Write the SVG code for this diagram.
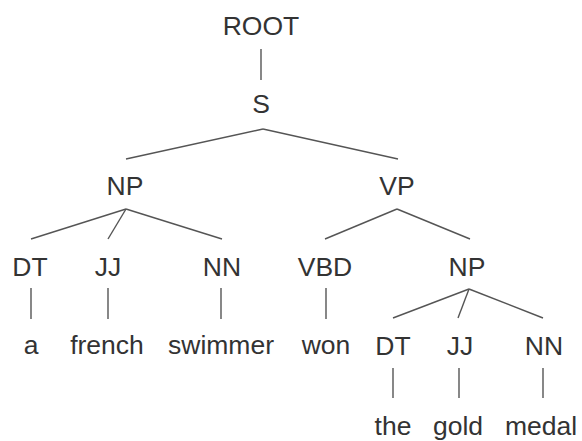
<svg xmlns="http://www.w3.org/2000/svg" width="582" height="441" viewBox="0 0 582 441">
<style>
text{font-family:"Liberation Sans",Arial,sans-serif;font-size:26.5px;fill:#333;text-anchor:middle}
line{stroke:#555;stroke-width:1.4}
</style>
<rect width="582" height="441" fill="#fff"/>
<g id="connectors">
<line x1="261" y1="49" x2="261" y2="80"/>
<line x1="263" y1="129" x2="126" y2="159"/>
<line x1="263" y1="129" x2="398" y2="159"/>
<line x1="126" y1="209" x2="31" y2="239"/>
<line x1="126" y1="209" x2="108" y2="239"/>
<line x1="126" y1="209" x2="222" y2="239"/>
<line x1="397" y1="209" x2="325" y2="239"/>
<line x1="397" y1="209" x2="470" y2="239"/>
<line x1="31" y1="288" x2="31" y2="319"/>
<line x1="108" y1="288" x2="108" y2="319"/>
<line x1="221" y1="288" x2="221" y2="319"/>
<line x1="326" y1="288" x2="326" y2="319"/>
<line x1="469" y1="289" x2="393" y2="318"/>
<line x1="469" y1="289" x2="458" y2="318"/>
<line x1="469" y1="289" x2="543" y2="318"/>
<line x1="393" y1="368" x2="393" y2="398"/>
<line x1="459" y1="368" x2="459" y2="398"/>
<line x1="543" y1="368" x2="543" y2="398"/>
</g>
<g id="root"><text x="261" y="35">ROOT</text></g>
<g id="s"><text x="261" y="113">S</text></g>
<g id="np1"><text x="125" y="195">NP</text></g>
<g id="vp"><text x="397" y="195">VP</text></g>
<g id="dt1"><text x="30" y="276">DT</text></g>
<g id="jj1"><text x="108" y="276">JJ</text></g>
<g id="nn1"><text x="222" y="276">NN</text></g>
<g id="vbd"><text x="325" y="276">VBD</text></g>
<g id="np2"><text x="467" y="276">NP</text></g>
<g id="w-a"><text x="31" y="354">a</text></g>
<g id="w-french"><text x="107" y="354">french</text></g>
<g id="w-swimmer"><text x="221" y="354">swimmer</text></g>
<g id="w-won"><text x="326" y="354">won</text></g>
<g id="dt2"><text x="393" y="355">DT</text></g>
<g id="jj2"><text x="460" y="355">JJ</text></g>
<g id="nn2"><text x="544" y="355">NN</text></g>
<g id="w-the"><text x="393" y="435">the</text></g>
<g id="w-gold"><text x="458" y="435">gold</text></g>
<g id="w-medal"><text x="541" y="435">medal</text></g>
</svg>
